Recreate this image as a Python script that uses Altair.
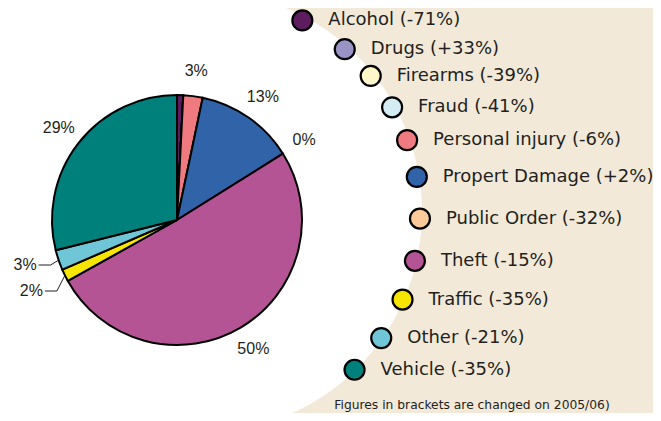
import math
import pandas as pd
import altair as alt

# ---------------- data ----------------
categories = ["Alcohol", "Drugs", "Firearms", "Fraud", "Personal injury",
              "Propert Damage", "Public Order", "Theft", "Traffic", "Other", "Vehicle"]
changes = ["-71%", "+33%", "-39%", "-41%", "-6%", "+2%", "-32%", "-15%", "-35%", "-21%", "-35%"]
shares = [0.8, 0.0, 0.0, 0.0, 2.5, 12.8, 0.0, 50.8, 1.6, 2.6, 28.9]
pie_labels = ["", "", "", "", "3%", "13%", "0%", "50%", "2%", "3%", "29%"]
colors = ["#5c1c5e", "#9a94c4", "#fdf7c9", "#d4ecf3", "#ef7b80", "#3063a8",
          "#fcc99b", "#b55494", "#f6e500", "#6fc6d6", "#00807b"]
footnote = "Figures in brackets are changed on 2005/06)"

# ---------------- layout ----------------
OFF = 8                       # page margin
W, H = 645, 405
PIE_CX, PIE_CY, PIE_R = 177 - OFF, 220 - OFF, 125
LABEL_R = 150
BG_CX, BG_CY, BG_R = 201 - OFF, 212 - OFF, 221
LEG_CX, LEG_CY, LEG_R = 202 - OFF, 214 - OFF, 218
LEG_ANGLES = [-62.6, -49.1, -39.3, -29.3, -19.8, -9.8, 1.2, 12.4, 23.1, 34.7, 45.6]
CALLOUT_Y = {"Other": 265 - OFF, "Traffic": 291 - OFF}
BEIGE = "#f2e9d8"
TXT = "#231f20"
LEG_FONT = "DejaVu Sans"

df = pd.DataFrame({
    "cat": categories,
    "share": shares,
    "pct": pie_labels,
    "idx": list(range(len(categories))),
})
df["entry"] = [f"{c} ({v})" for c, v in zip(categories, changes)]
df["main_lbl"] = [l if c not in CALLOUT_Y else "" for c, l in zip(categories, pie_labels)]

# legend positions along the arc
df["lx"] = [LEG_CX + LEG_R * math.cos(math.radians(a)) for a in LEG_ANGLES]
df["ly"] = [LEG_CY + LEG_R * math.sin(math.radians(a)) for a in LEG_ANGLES]

# callout leader lines for small slices
total = sum(shares)
line_rows, call_rows = [], []
start = 0.0
for c, s, l in zip(categories, shares, pie_labels):
    mid = start + s / 2
    start += s
    if c in CALLOUT_Y:
        a = 2 * math.pi * mid / total
        ex = PIE_CX + PIE_R * math.sin(a)
        ey = PIE_CY - PIE_R * math.cos(a)
        yy = CALLOUT_Y[c]
        bx = ex - 8
        tx = bx - 12
        line_rows += [
            {"cat": c, "o": 0, "x": ex, "y": ey},
            {"cat": c, "o": 1, "x": bx, "y": yy},
            {"cat": c, "o": 2, "x": tx, "y": yy},
        ]
        call_rows.append({"cat": c, "lbl": l, "x": tx - 2, "y": yy})
lines_df = pd.DataFrame(line_rows)
calls_df = pd.DataFrame(call_rows)

one = pd.DataFrame({"a": [0]})
cscale = alt.Scale(domain=categories, range=colors)

bg = alt.Chart(one).mark_rect(color=BEIGE).encode(
    x=alt.value(BG_CX), x2=alt.value(W), y=alt.value(0), y2=alt.value(H))

white = alt.Chart(one).mark_arc(radius=BG_R, theta=0, theta2=2 * math.pi, color="white").encode(
    x=alt.value(BG_CX), y=alt.value(BG_CY))

pie = alt.Chart(df).mark_arc(radius=PIE_R, stroke="black", strokeWidth=2).encode(
    theta=alt.Theta("share:Q", stack=True),
    color=alt.Color("cat:N", scale=cscale, legend=None),
    order=alt.Order("idx:Q"),
    x=alt.value(PIE_CX), y=alt.value(PIE_CY))

labels = alt.Chart(df).mark_text(radius=LABEL_R, font="Liberation Sans", fontSize=16, color=TXT).encode(
    theta=alt.Theta("share:Q", stack=True),
    order=alt.Order("idx:Q"),
    detail="cat:N",
    text="main_lbl:N",
    x=alt.value(PIE_CX), y=alt.value(PIE_CY))

leaders = alt.Chart(lines_df).mark_line(color=TXT, strokeWidth=1).encode(
    x=alt.X("x:Q", scale=None), y=alt.Y("y:Q", scale=None),
    detail="cat:N", order="o:Q")

callouts = alt.Chart(calls_df).mark_text(align="right", baseline="middle", font="Liberation Sans",
                                         fontSize=16, color=TXT).encode(
    x=alt.X("x:Q", scale=None), y=alt.Y("y:Q", scale=None), text="lbl:N")

leg_pts = alt.Chart(df).mark_point(filled=True, size=400, stroke="black", strokeWidth=2.2, opacity=1).encode(
    x=alt.X("lx:Q", scale=None), y=alt.Y("ly:Q", scale=None),
    fill=alt.Fill("cat:N", scale=cscale, legend=None))

leg_txt = alt.Chart(df).mark_text(align="left", baseline="middle", dx=26, font=LEG_FONT,
                                  fontSize=18, color=TXT).encode(
    x=alt.X("lx:Q", scale=None), y=alt.Y("ly:Q", scale=None), text="entry:N")

note = alt.Chart(pd.DataFrame({"t": [footnote]})).mark_text(
    align="center", baseline="bottom", font=LEG_FONT, fontSize=12.3, color=TXT).encode(
    x=alt.value(472 - OFF), y=alt.value(H - 1), text="t:N")

chart = alt.layer(bg, white, pie, labels, leaders, callouts, leg_pts, leg_txt, note).properties(
    width=W, height=H, autosize="none", padding=0
).configure_view(stroke=None)

chart.save("out.html", embed_options={"renderer": "svg", "actions": False})
